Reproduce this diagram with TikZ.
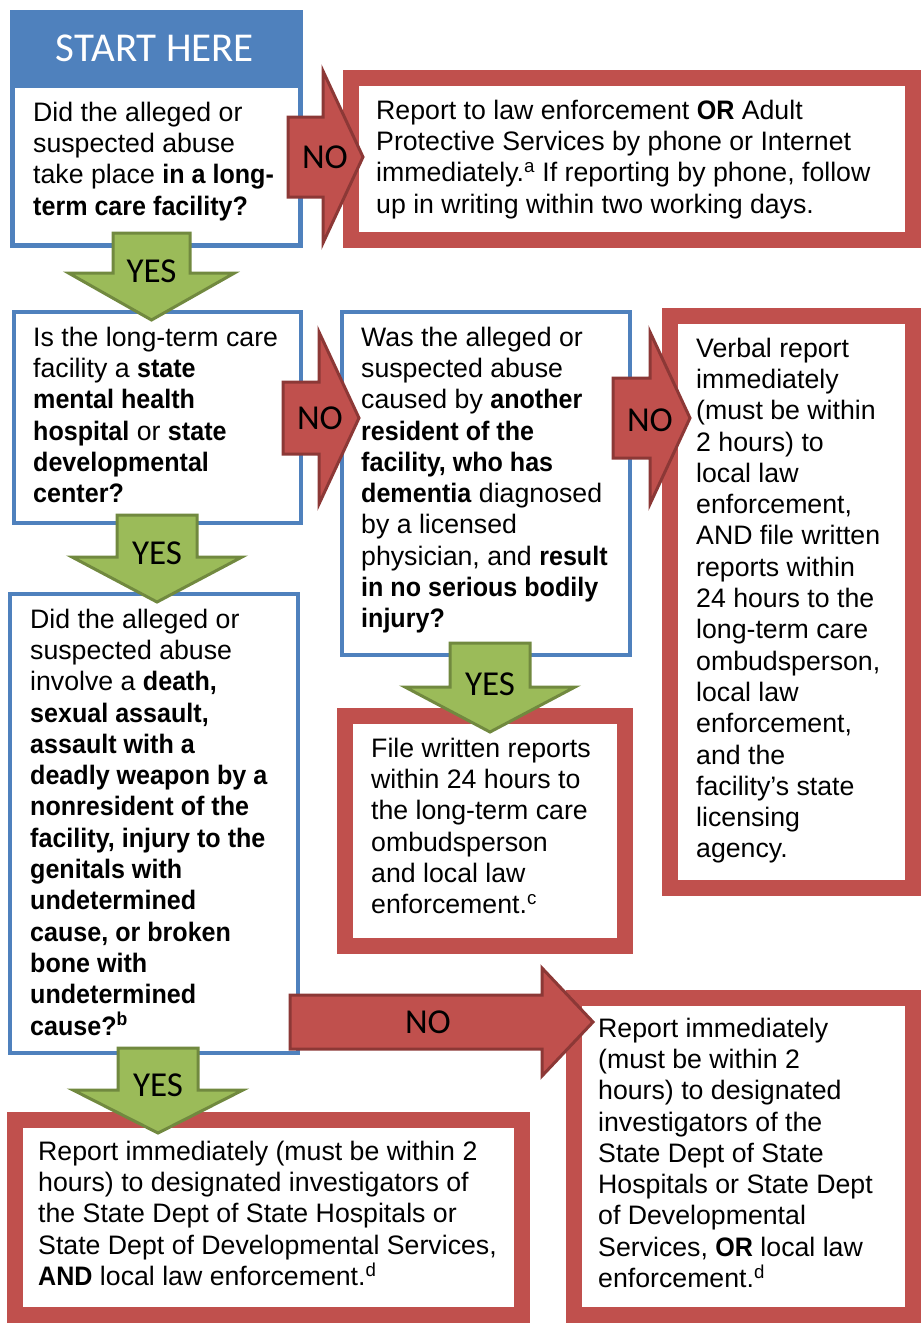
\documentclass[tikz,border=0pt]{standalone}
\usepackage{fontspec}
\setmainfont{Liberation Sans}[BoldFeatures={FakeStretch=0.94}]
\newfontfamily\labfont{Carlito}
\definecolor{cred}{HTML}{C0504D}
\definecolor{cdred}{HTML}{8C3836}
\definecolor{cgreen}{HTML}{9BBB59}
\definecolor{cdgreen}{HTML}{71893F}
\definecolor{cblue}{HTML}{4F81BD}
\tikzset{
 redbox/.style={draw=cred, line width=16pt, fill=white, inner sep=0pt, outer sep=0pt},
 bluebox/.style={draw=cblue, line width=4pt, fill=white, inner sep=0pt, outer sep=0pt},
 txt/.style={anchor=north west, inner sep=0pt, align=left, font=\fontsize{26.7}{31.3}\selectfont},
 noarrow/.style={fill=cred, draw=cdred, line width=3pt},
 yesarrow/.style={fill=cgreen, draw=cdgreen, line width=3pt},
 lab/.style={font=\labfont\fontsize{35}{40}\selectfont, inner sep=0pt},
}
\newcommand\rightblock[6]{%
 \draw[noarrow] (#1,#4-#5) -- (#2,#4-#5) -- (#2,#4-#6) -- (#3,#4) -- (#2,#4+#6) -- (#2,#4+#5) -- (#1,#4+#5) -- cycle;}
\newcommand\downblock[6]{%
 \draw[yesarrow] (#1-#5,#2) -- (#1+#5,#2) -- (#1+#5,#3) -- (#1+#6,#3) -- (#1,#4) -- (#1-#6,#3) -- (#1-#5,#3) -- cycle;}
\begin{document}
\begin{tikzpicture}[x=1pt,y=-1pt]
\useasboundingbox (0,0) rectangle (921,1323);
% boxes
\node[fill=cblue, inner sep=0pt, minimum width=293pt, minimum height=238pt] (b1) at (156.5,129) {};
\node[fill=white, inner sep=0pt, minimum width=283pt, minimum height=155pt] (b1in) at (156.5,165.5) {};
\node[text=white, font=\labfont\fontsize{41}{46}\selectfont, inner sep=0pt] (start) at (155,48) {START HERE};
\node[redbox, minimum width=562pt, minimum height=162pt] (r1) at (632,159) {};
\node[bluebox, minimum width=287pt, minimum height=211pt] (b2) at (157.5,417.5) {};
\node[bluebox, minimum width=288pt, minimum height=343pt] (b4) at (486,483.5) {};
\node[redbox, minimum width=243pt, minimum height=572pt] (r5) at (791.5,602) {};
\node[bluebox, minimum width=288pt, minimum height=459pt] (b3) at (154,823.5) {};
\node[redbox, minimum width=280pt, minimum height=230pt] (r6) at (485,831) {};
\node[redbox, minimum width=339pt, minimum height=317pt] (r7) at (743.5,1156.5) {};
\node[redbox, minimum width=507pt, minimum height=195pt] (r8) at (268.5,1217.5) {};
% arrows
\rightblock{288}{323}{363}{157}{40}{86}
\node[lab] (no1) at (325,157) {NO};
\downblock{151.5}{233}{273}{320}{38.5}{83}
\node[lab] (yes1) at (151.5,271) {YES};
\rightblock{283}{319}{359}{418}{36}{86}
\node[lab] (no2) at (320,418) {NO};
\rightblock{613}{650}{690}{418}{40}{86}
\node[lab] (no3) at (650,420) {NO};
\downblock{157}{515}{557}{602}{40}{85}
\node[lab] (yes2) at (157,553) {YES};
\downblock{490}{643}{687}{732}{40}{85}
\node[lab] (yes4) at (490,684) {YES};
\rightblock{290}{542}{593}{1022}{27}{54}
\node[lab] (no4) at (428,1022) {NO};
\downblock{158}{1048}{1090}{1133}{40}{85}
\node[lab] (yes3) at (158,1085) {YES};
% texts
\node[txt] (t1) at (33,99.1) {\strut Did the alleged or\\suspected abuse\\take place \textbf{in a long-}\\\textbf{term care facility?}};
\node[txt] (tr1) at (376,97) {\strut Report to law enforcement \textbf{OR} Adult\\Protective Services by phone or Internet\\immediately.\textsuperscript{a} If reporting by phone, follow\\up in writing within two working days.};
\node[txt] (t2) at (33,324) {\strut Is the long-term care\\facility a \textbf{state}\\\textbf{mental health}\\\textbf{hospital} or \textbf{state}\\\textbf{developmental}\\\textbf{center?}};
\node[txt] (t4) at (361,324) {\strut Was the alleged or\\suspected abuse\\caused by \textbf{another}\\\textbf{resident of the}\\\textbf{facility, who has}\\\textbf{dementia} diagnosed\\by a licensed\\physician, and \textbf{result}\\\textbf{in no serious bodily}\\\textbf{injury?}};
\node[txt] (t5) at (696,335) {\strut Verbal report\\immediately\\(must be within\\2 hours) to\\local law\\enforcement,\\AND file written\\reports within\\24 hours to the\\long-term care\\ombudsperson,\\local law\\enforcement,\\and the\\facility’s state\\licensing\\agency.};
\node[txt] (t6) at (371,735) {\strut File written reports\\within 24 hours to\\the long-term care\\ombudsperson\\and local law\\enforcement.\textsuperscript{c}};
\node[txt] (t3) at (30,606) {\strut Did the alleged or\\suspected abuse\\involve a \textbf{death,}\\\textbf{sexual assault,}\\\textbf{assault with a}\\\textbf{deadly weapon by a}\\\textbf{nonresident of the}\\\textbf{facility, injury to the}\\\textbf{genitals with}\\\textbf{undetermined}\\\textbf{cause, or broken}\\\textbf{bone with}\\\textbf{undetermined}\\\textbf{cause?\textsuperscript{b}}};
\node[txt] (t7) at (598,1015) {\strut Report immediately\\(must be within 2\\hours) to designated\\investigators of the\\State Dept of State\\Hospitals or State Dept\\of Developmental\\Services, \textbf{OR} local law\\enforcement.\textsuperscript{d}};
\node[txt] (t8) at (38,1138) {\strut Report immediately (must be within 2\\hours) to designated investigators of\\the State Dept of State Hospitals or\\State Dept of Developmental Services,\\\textbf{AND} local law enforcement.\textsuperscript{d}};
\end{tikzpicture}
\end{document}
